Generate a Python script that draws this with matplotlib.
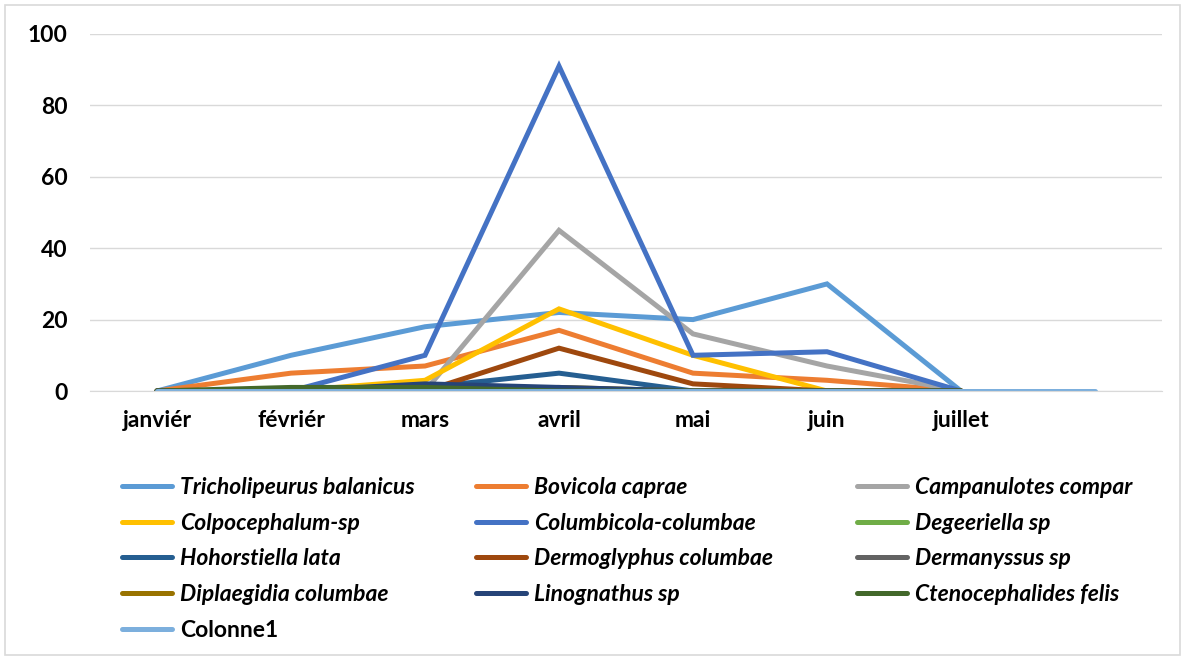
import matplotlib
matplotlib.use("Agg")
import matplotlib.pyplot as plt
from matplotlib.patches import Rectangle

plt.rcParams['font.family'] = ['Lato', 'DejaVu Sans']

months = ["janviér", "févriér", "mars", "avril", "mai", "juin", "juillet", ""]

series_names = [
    "Tricholipeurus balanicus", "Bovicola caprae", "Campanulotes compar",
    "Colpocephalum-sp", "Columbicola-columbae", "Degeeriella sp",
    "Hohorstiella lata", "Dermoglyphus columbae", "Dermanyssus sp",
    "Diplaegidia columbae", "Linognathus sp", "Ctenocephalides felis",
    "Colonne1",
]

tricholipeurus = [0, 10, 18, 22, 20, 30, 0]
bovicola = [0, 5, 7, 17, 5, 3, 0]
campanulotes = [0, 0, 0, 45, 16, 7, 0]
colpocephalum = [0, 0, 3, 23, 10, 0, 0]
columbicola = [0, 0, 10, 91, 10, 11, 0]
degeeriella = [0, 0, 0, 0, 0, 0, 0]
hohorstiella = [0, 0, 1, 5, 0, 0, 0]
dermoglyphus = [0, 0, 0, 12, 2, 0, 0]
dermanyssus = [0, 0, 0, 0, 0, 0, 0]
diplaegidia = [0, 0, 0, 1, 0, 0, 0]
linognathus = [0, 0, 2, 1, 0, 0, 0]
ctenocephalides = [0, 1, 1, 0, 0, 0, 0]
colonne1 = [0, 0, 0, 0, 0, 0, 0, 0]

series_values = [
    tricholipeurus, bovicola, campanulotes, colpocephalum, columbicola,
    degeeriella, hohorstiella, dermoglyphus, dermanyssus, diplaegidia,
    linognathus, ctenocephalides, colonne1,
]

colors = [
    "#5B9BD5", "#ED7D31", "#A5A5A5", "#FFC000", "#4472C4", "#70AD47",
    "#255E91", "#9E480E", "#636363", "#997300", "#264478", "#43682B",
    "#7CAFDD",
]

fig = plt.figure(figsize=(11.86, 6.6), dpi=100)
ax = fig.add_axes([90 / 1186, 1 - 391 / 660, (1162 - 90) / 1186, (391 - 34) / 660])

lines = []
for name, vals, col in zip(series_names, series_values, colors):
    ln, = ax.plot(range(len(vals)), vals, color=col, lw=3.6,
                  solid_capstyle='round', solid_joinstyle='miter', label=name)
    lines.append(ln)

ax.set_xlim(-0.5, len(months) - 0.5)
ax.set_ylim(0, 100)
ax.set_yticks(range(0, 101, 20))
ax.set_xticks(range(len(months)))
ax.set_xticklabels(months)
ax.grid(axis='y', color='#D9D9D9', lw=1.0)
ax.set_axisbelow(True)
for s in ['top', 'right', 'left']:
    ax.spines[s].set_visible(False)
ax.spines['bottom'].set_color('#D9D9D9')
ax.tick_params(axis='both', length=0, labelsize=16.5)
ax.tick_params(axis='y', pad=16)
ax.tick_params(axis='x', pad=14)
for t in ax.get_xticklabels() + ax.get_yticklabels():
    t.set_fontweight('bold')

# Legend laid out in three columns, filled row by row
columns = [[0, 3, 6, 9, 12], [1, 4, 7, 10], [2, 5, 8, 11]]
anchors = [122, 476, 857]
for idxs, x0 in zip(columns, anchors):
    leg = fig.legend([lines[i] for i in idxs], [series_names[i] for i in idxs],
                     loc='upper left', bbox_to_anchor=(x0 / 1186, 1 - 477 / 660),
                     frameon=False, fontsize=16.5, handlelength=2.2,
                     handletextpad=0.35, labelspacing=0.64, borderaxespad=0,
                     borderpad=0)
    for t in leg.get_texts():
        t.set_fontweight('bold')
        if t.get_text() != "Colonne1":
            t.set_fontstyle('italic')

fig.patches.append(Rectangle((5 / 1186, 5 / 660), 1175 / 1186, 650 / 660,
                             transform=fig.transFigure, fill=False,
                             edgecolor='#D9D9D9', lw=1.2))

fig.savefig("out.png", dpi=100)
